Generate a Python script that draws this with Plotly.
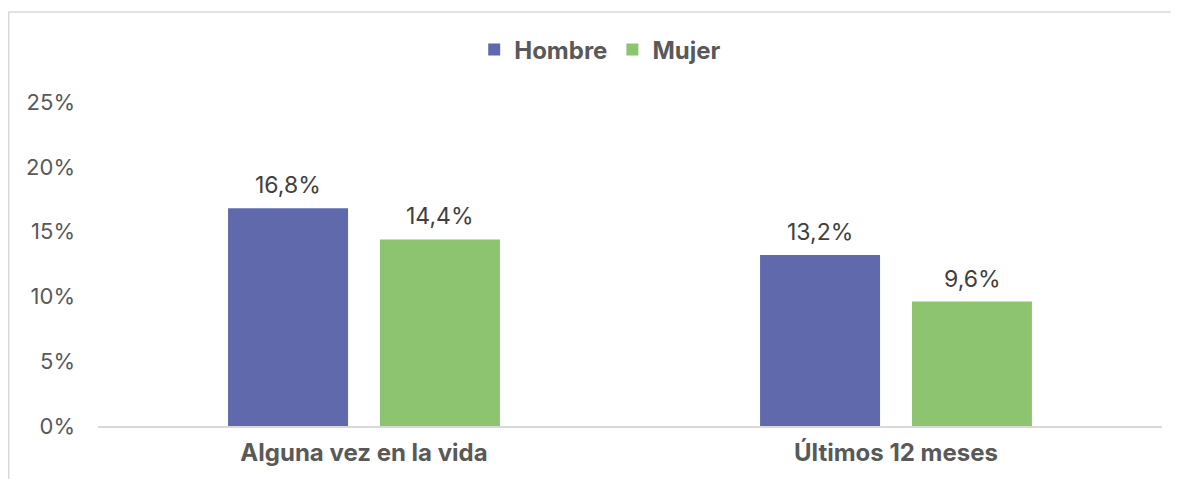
import plotly.graph_objects as go

categories = ["Alguna vez en la vida", "Últimos 12 meses"]
hombre = [16.8, 13.2]
mujer = [14.4, 9.6]
y_ticks = [0, 5, 10, 15, 20, 25]
y_tick_labels = ["0%", "5%", "10%", "15%", "20%", "25%"]

FONT = "Inter, Roboto, Arial, sans-serif"
# page has an 8px body margin; size the figure to fit the 1179x479 window
W, H = 1171, 471
L, R, T, B = 90, 17, 94, 53

fig = go.Figure()
fig.add_trace(go.Bar(name="<b>Hombre</b>", x=categories, y=hombre,
                     marker_color="#5F69AB", marker_line_width=0))
fig.add_trace(go.Bar(name="<b>Mujer</b>", x=categories, y=mujer,
                     marker_color="#8DC470", marker_line_width=0))

# value labels above bars (offset to each bar centre in the group)
for vals, dx in ((hombre, -76), (mujer, 76)):
    for c, v in zip(categories, vals):
        fig.add_annotation(x=c, y=v, xref="x", yref="y", text=f"{v:.1f}%".replace(".", ","),
                           showarrow=False, xshift=dx, yshift=7, yanchor="bottom",
                           font=dict(size=23, color="#404040", family=FONT))

pw = W - L - R
ph = H - T - B
fig.add_shape(type="rect", xref="paper", yref="paper",
              x0=(0.75 - L) / pw, x1=(W + 5 - L) / pw,
              y0=(H - B - (H + 5)) / ph, y1=(H - B - 4) / ph,
              line=dict(color="#D9D9D9", width=1.5), fillcolor="rgba(0,0,0,0)", layer="below")

fig.update_layout(
    width=W, height=H,
    margin=dict(l=L, r=R, t=T, b=B, autoexpand=False),
    paper_bgcolor="white", plot_bgcolor="white",
    separators=",.",
    barmode="group", bargap=0.429, bargroupgap=0.21,
    font=dict(family=FONT, color="#595959"),
    showlegend=True,
    legend=dict(orientation="h", x=0.472, xanchor="center", y=(H - B - 42) / ph, yanchor="middle",
                bgcolor="rgba(0,0,0,0)",
                font=dict(size=24, color="#595959", family=FONT),
                itemwidth=30, tracegroupgap=0),
    xaxis=dict(showgrid=False, showline=True, linecolor="#D9D9D9", linewidth=1.5,
               ticks="", tickfont=dict(size=24, color="#595959", family=FONT),
               tickvals=categories, ticktext=["<b>" + c + "</b>" for c in categories],
               ticklabelstandoff=4),
    yaxis=dict(range=[0, 25], tickvals=y_ticks, ticktext=y_tick_labels,
               showgrid=False, zeroline=False, showline=False, ticks="",
               tickfont=dict(size=22, color="#595959", family=FONT), ticklabelstandoff=22),
)

fig.write_html("out.html")
